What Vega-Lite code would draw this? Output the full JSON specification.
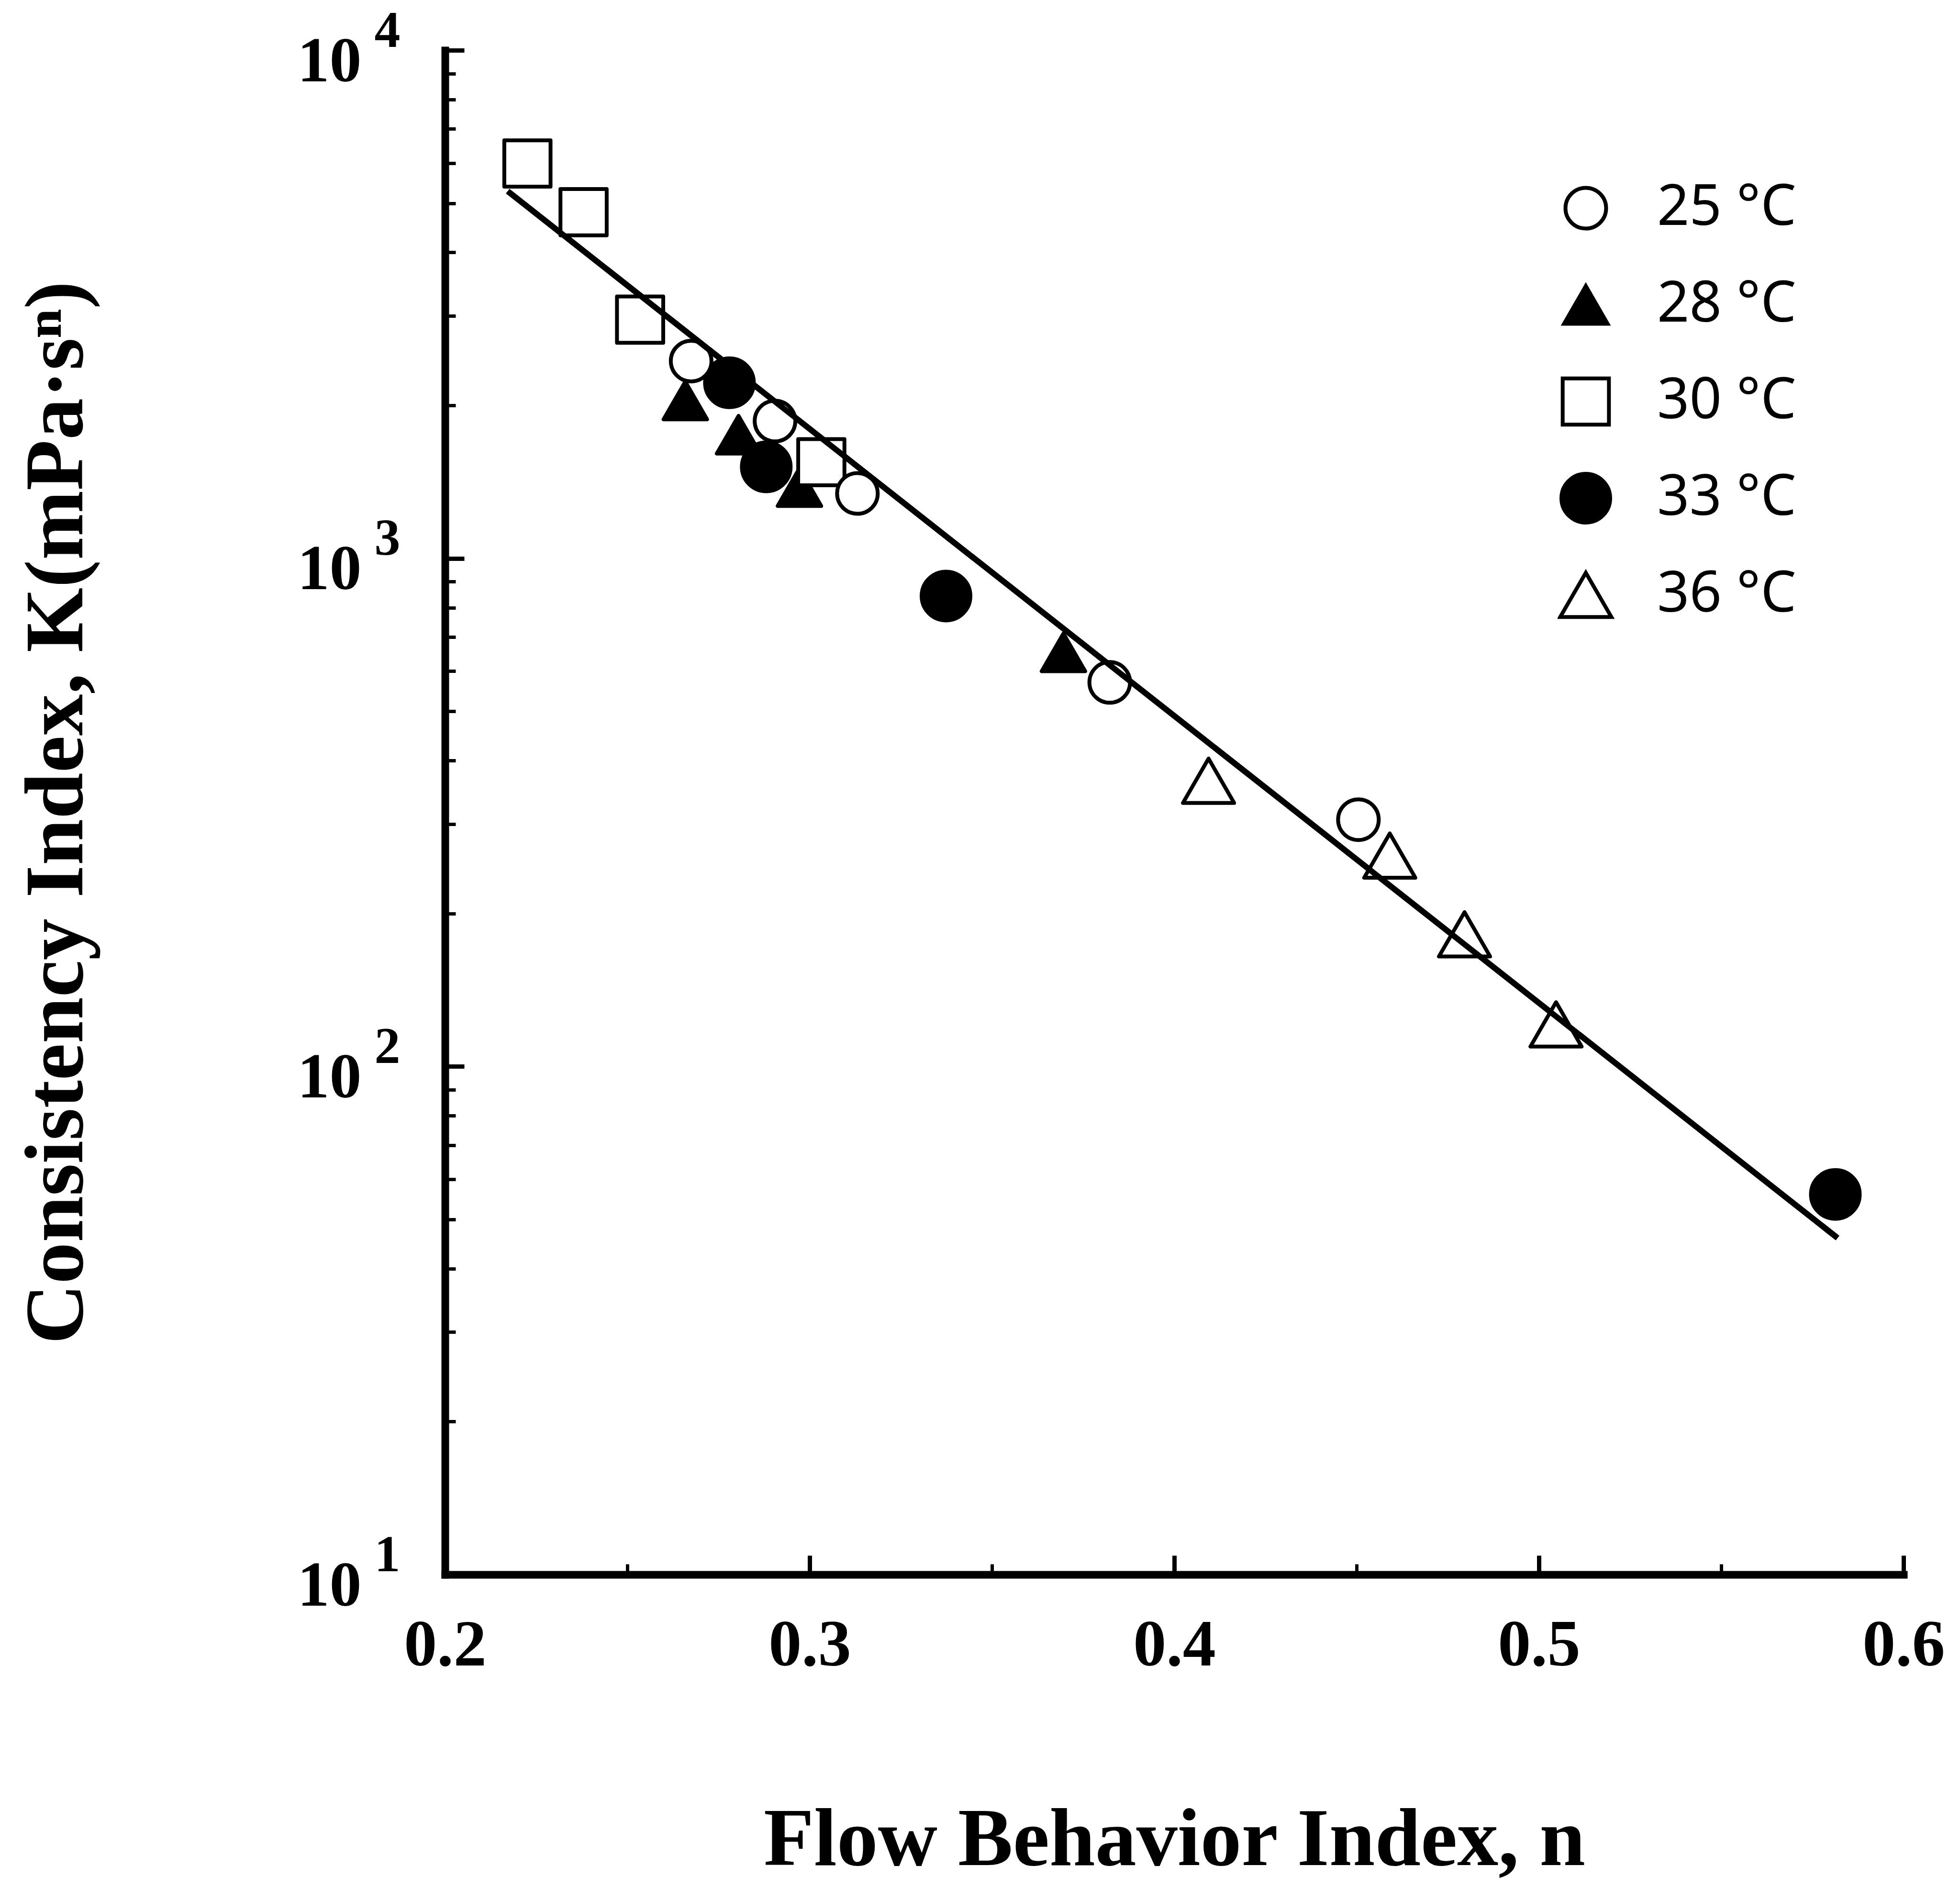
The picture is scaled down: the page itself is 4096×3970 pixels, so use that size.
{
  "$schema": "https://vega.github.io/schema/vega-lite/v6.json",
  "width": 3048,
  "height": 3185,
  "autosize": {"type": "none"},
  "padding": {"left": 930, "top": 105, "right": 118, "bottom": 680},
  "background": "white",
  "config": {
    "view": {"stroke": null},
    "axis": {"grid": false, "domainColor": "black", "tickColor": "black", "labelColor": "black", "titleColor": "black", "labelFlush": false, "labelOverlap": false}
  },
  "datasets": {
    "points": [
      {"n": 0.278, "K": 2216, "T": "33 °C"},
      {"n": 0.2881, "K": 1514, "T": "33 °C"},
      {"n": 0.3374, "K": 843, "T": "33 °C"},
      {"n": 0.5813, "K": 56, "T": "33 °C"},
      {"n": 0.2659, "K": 2045, "T": "28 °C"},
      {"n": 0.2805, "K": 1751, "T": "28 °C"},
      {"n": 0.2972, "K": 1381, "T": "28 °C"},
      {"n": 0.3696, "K": 653, "T": "28 °C"},
      {"n": 0.2226, "K": 5985, "T": "30 °C"},
      {"n": 0.238, "K": 4800, "T": "30 °C"},
      {"n": 0.2535, "K": 2950, "T": "30 °C"},
      {"n": 0.3032, "K": 1546, "T": "30 °C"},
      {"n": 0.2675, "K": 2445, "T": "25 °C"},
      {"n": 0.2905, "K": 1863, "T": "25 °C"},
      {"n": 0.3131, "K": 1342, "T": "25 °C"},
      {"n": 0.3823, "K": 570, "T": "25 °C"},
      {"n": 0.4505, "K": 306, "T": "25 °C"},
      {"n": 0.4094, "K": 365, "T": "36 °C"},
      {"n": 0.4591, "K": 260, "T": "36 °C"},
      {"n": 0.4796, "K": 182, "T": "36 °C"},
      {"n": 0.5047, "K": 121, "T": "36 °C"}
    ],
    "fit": [
      {"n": 0.2172, "K": 5279},
      {"n": 0.5819, "K": 45.97}
    ]
  },
  "resolve": {"axis": {"x": "independent", "y": "independent"}},
  "layer": [
    {
      "data": {"name": "fit"},
      "mark": {"type": "line", "color": "black", "strokeWidth": 12},
      "encoding": {
        "x": {
          "field": "n", "type": "quantitative",
          "scale": {"domain": [0.2, 0.6], "nice": false, "zero": false},
          "axis": {
            "orient": "bottom", "values": [0.2, 0.3, 0.4, 0.5, 0.6], "format": ".1f",
            "domain": true, "domainWidth": 16, "domainCap": "square",
            "ticks": true, "tickSize": -40, "tickWidth": 9,
            "labelFont": "Liberation Serif", "labelFontWeight": "bold", "labelFontSize": 138,
            "labelBaseline": "top", "labelPadding": 120,
            "title": null
          }
        },
        "y": {
          "field": "K", "type": "quantitative",
          "scale": {"type": "log", "domain": [10, 10000], "nice": false},
          "axis": {
            "orient": "left", "values": [10, 100, 1000, 10000], "labelExpr": "'10'",
            "domain": true, "domainWidth": 16, "domainCap": "square",
            "ticks": true, "tickSize": -40, "tickWidth": 9,
            "labelFont": "Liberation Serif", "labelFontWeight": "bold", "labelFontSize": 134,
            "labelBaseline": "middle", "labelAlign": "right", "labelPadding": 215, "labelOffset": 24,
            "title": null
          }
        }
      }
    },
    {
      "data": {"name": "points"},
      "mark": {"type": "point", "filled": true, "stroke": "black", "strokeWidth": 8, "opacity": 1, "strokeJoin": "round"},
      "encoding": {
        "x": {
          "field": "n", "type": "quantitative",
          "axis": {
            "orient": "bottom", "values": [0.25, 0.35, 0.45, 0.55],
            "labels": false, "domain": false, "ticks": true, "tickSize": -22, "tickWidth": 7,
            "title": "Flow Behavior Index, n",
            "titleFont": "Liberation Serif", "titleFontWeight": "bold", "titleFontSize": 172,
            "titlePadding": 467
          }
        },
        "y": {
          "field": "K", "type": "quantitative",
          "axis": {
            "orient": "left",
            "values": [20, 30, 40, 50, 60, 70, 80, 90, 200, 300, 400, 500, 600, 700, 800, 900, 2000, 3000, 4000, 5000, 6000, 7000, 8000, 9000],
            "labels": false, "domain": false, "ticks": true, "tickSize": -22, "tickWidth": 7,
            "title": "Consistency Index, K(mPa·sⁿ)",
            "titleFont": "Liberation Serif", "titleFontWeight": "bold", "titleFontSize": 174,
            "titlePadding": 718
          }
        },
        "shape": {
          "field": "T", "type": "ordinal",
          "scale": {"domain": ["25 °C", "28 °C", "30 °C", "33 °C", "36 °C"], "range": ["circle", "triangle-up", "square", "circle", "triangle-up"]},
          "legend": {
            "orient": "none", "legendX": 2325, "legendY": 270, "title": null,
            "labelFont": "Noto Sans", "labelFontSize": 118, "labelColor": "black", "labelLimit": 2000,
            "labelOffset": 90, "rowPadding": 82, "clipHeight": 120, "padding": 0,
            "symbolStrokeColor": "black", "symbolStrokeWidth": 8
          }
        },
        "fill": {
          "field": "T", "type": "ordinal",
          "scale": {"domain": ["25 °C", "28 °C", "30 °C", "33 °C", "36 °C"], "range": ["white", "black", "white", "black", "white"]}
        },
        "size": {
          "field": "T", "type": "ordinal",
          "scale": {"domain": ["25 °C", "28 °C", "30 °C", "33 °C", "36 °C"], "range": [7225, 11450, 8100, 9400, 12100]}
        }
      }
    },
    {
      "data": {"name": "fit"},
      "mark": {"type": "line", "color": "black", "strokeWidth": 12},
      "encoding": {
        "x": {"field": "n", "type": "quantitative", "axis": null},
        "y": {
          "field": "K", "type": "quantitative",
          "axis": {
            "orient": "left", "values": [10, 100, 1000, 10000],
            "labelExpr": "'' + round(log(datum.value) / LN10)",
            "domain": false, "ticks": false,
            "labelFont": "Liberation Serif", "labelFontWeight": "bold", "labelFontSize": 108,
            "labelBaseline": "middle", "labelAlign": "right", "labelPadding": 94, "labelOffset": -40,
            "title": null
          }
        }
      }
    }
  ]
}
